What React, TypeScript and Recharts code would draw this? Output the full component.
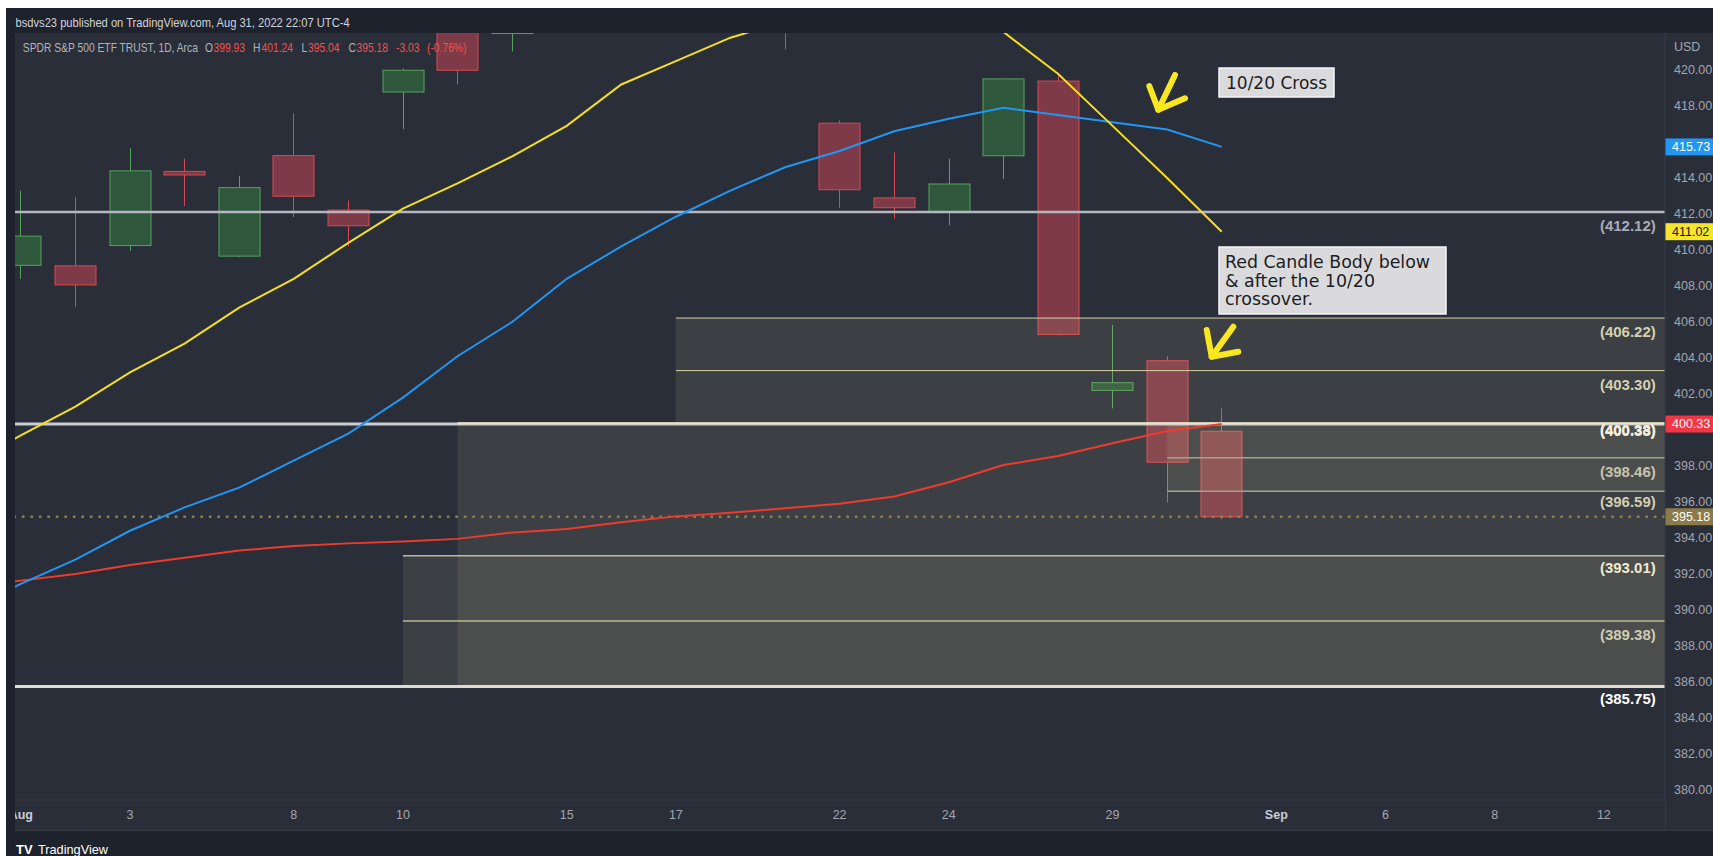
import React from "react";
import {
  ComposedChart,
  Bar,
  Line,
  XAxis,
  YAxis,
  ReferenceLine,
  ReferenceArea,
} from "recharts";

// Trading days on screen. Jul 29 only feeds the averages at the clipped left edge.
const dates = [
  "Jul 29", "Aug 1", "Aug 2", "Aug 3", "Aug 4", "Aug 5", "Aug 8", "Aug 9", "Aug 10",
  "Aug 11", "Aug 12", "Aug 15", "Aug 16", "Aug 17", "Aug 18", "Aug 19", "Aug 22",
  "Aug 23", "Aug 24", "Aug 25", "Aug 26", "Aug 29", "Aug 30", "Aug 31",
];

const opens = [null, 409.15, 409.12, 410.25, 414.37, 409.66, 415.25, 412.22, 418.78, 422.99, 422.03, 424.77, 427.73, 425.85, 426.86, 424.98, 417.05, 412.9, 412.11, 415.24, 419.39, 402.2, 403.85, 399.93];
const highs = [null, 413.3, 412.96, 415.65, 415.07, 414.12, 417.6, 412.75, 420.1, 424.95, 427.21, 429.3, 431.73, 428.61, 428.49, 425.26, 417.2, 415.42, 415.08, 419.56, 419.85, 405.84, 404.1, 401.24];
const lows = [null, 408.4, 406.82, 409.96, 412.44, 409.6, 411.83, 410.2, 416.71, 419.2, 421.03, 424.0, 426.88, 424.57, 425.84, 421.15, 412.35, 411.75, 411.37, 413.95, 405.25, 401.2, 395.97, 395.04];
const closes = [null, 410.77, 408.06, 414.4, 414.17, 413.47, 412.99, 411.35, 419.99, 419.99, 427.1, 428.86, 429.7, 426.65, 427.89, 422.14, 413.35, 412.35, 413.67, 419.51, 405.31, 402.63, 398.21, 395.18];

// moving averages (10 yellow, 20 blue, 50 red)
const ma10 = [398.0, 399.7, 401.3, 403.2, 404.8, 406.8, 408.4, 410.4, 412.3, 413.7, 415.2, 416.9, 419.2, 420.5, 421.8, 422.7, 422.7, 422.8, 422.2, 422.12, 419.8, 416.9, 414.0, 411.02];
const ma20 = [390.0, 391.45, 392.8, 394.4, 395.7, 396.8, 398.3, 399.8, 401.8, 404.1, 406.0, 408.4, 410.2, 411.85, 413.3, 414.6, 415.5, 416.6, 417.3, 417.9, 417.5, 417.1, 416.7, 415.73];
const ma50 = [391.3, 391.63, 392.0, 392.5, 392.9, 393.3, 393.55, 393.7, 393.8, 393.95, 394.3, 394.5, 394.87, 395.2, 395.4, 395.65, 395.9, 396.3, 397.1, 398.05, 398.55, 399.26, 399.94, 400.33];

// bar index of each date label on the time axis (Aug 1 = 0)
const xTickIdx = [0, 2, 5, 7, 10, 12, 15, 17, 20, 23, 25, 27, 29];
const xTickLabels = ["Aug", "3", "8", "10", "15", "17", "22", "24", "29", "Sep", "6", "8", "12"];

// price scale labels (400 and 416 sit under the last-value tags)
const yTicks = [380, 382, 384, 386, 388, 390, 392, 394, 396, 398, 402, 404, 406, 408, 410, 412, 414, 418, 420];

// drawn horizontal levels; start = bar index where the line begins (null = full width)
const levelValues = [412.12, 406.22, 403.3, 400.33, 400.38, 398.46, 396.59, 393.01, 389.38, 385.75];
const levelStart = [null, 12, 12, null, 8, 21, 21, 7, 7, null];
const levelText = ["(412.12)", "(406.22)", "(403.30)", "(400.33)", "(400.38)", "(398.46)", "(396.59)", "(393.01)", "(389.38)", "(385.75)"];

// shaded zones
const zoneTop = [406.22, 400.33, 393.01, 400.33];
const zoneBottom = [400.33, 385.75, 385.75, 396.59];
const zoneStart = [12, 8, 7, 21];

// last-value tags on the price scale
const tagValues = [415.73, 411.02, 400.33, 395.18];

// symbol line at the top
const symbolName = "SPDR S&P 500 ETF TRUST, 1D, Arca";
const ohlcKeys = ["O", "H", "L", "C"];
const ohlcValues = ["399.93", "401.24", "395.04", "395.18"];
const changeText = ["-3.03", "(-0.76%)"];

const X_MIN = -0.106;
const X_MAX = 30.12;
const Y_MIN = 379.44;
const Y_MAX = 422.06;
const PLOT_W = 1650;
const PLOT_H = 767;

const UI_FONT = '"Liberation Sans", Arial, sans-serif';
const NOTE_FONT = '"DejaVu Sans", Verdana, sans-serif';

const LEVEL_STYLE = [
  { stroke: "#b4b7c0", width: 2.5, text: "#a9acb5", weight: 600, dy: 14 },
  { stroke: "#d8d2a6", width: 1, text: "#d6d1ad", weight: 600, dy: 14 },
  { stroke: "#d8d2a6", width: 1, text: "#d6d1ad", weight: 600, dy: 14 },
  { stroke: "#c9cbd3", width: 3, text: "#f2eedb", weight: 700, dy: 7 },
  { stroke: "#ece4bc", width: 2, text: "#f2eedb", weight: 700, dy: 7 },
  { stroke: "#a6a38b", width: 1.5, text: "#c6c3ad", weight: 600, dy: 14 },
  { stroke: "#a6a38b", width: 1.5, text: "#d3cfb2", weight: 600, dy: 11 },
  { stroke: "#bdb996", width: 1.5, text: "#efebcf", weight: 700, dy: 12 },
  { stroke: "#bdb996", width: 1.5, text: "#cfcbb0", weight: 600, dy: 14 },
  { stroke: "#dedbd2", width: 3, text: "#ffffff", weight: 700, dy: 12.5 },
];

const TAG_STYLE = [
  { bg: "#2196f3", fg: "#ffffff" },
  { bg: "#f7e52b", fg: "#131722" },
  { bg: "#f23645", fg: "#ffffff" },
  { bg: "#8b7b4a", fg: "#ffffff" },
];

// x position of each piece of the symbol line (overlay px)
const OHLC_KEY_X = [199, 247, 295.5, 342.5];
const OHLC_VAL_X = [207.5, 255.5, 302, 350.5];
const CHANGE_X = [390, 421];

function Candle(props: any) {
  const { x, y, width, height, payload } = props;
  if (!payload || payload.o == null || !isFinite(y) || !isFinite(height)) return null;
  const { o, h, l, c } = payload;
  const top = Math.min(y, y + height);
  const bottom = Math.max(y, y + height);
  const span = h - l || 1;
  const py = (v: number) => top + ((h - v) / span) * (bottom - top);
  const cx = Math.round(x + width / 2) + 0.5;
  const up = c >= o;
  const stroke = up ? "#54a35c" : "#d94850";
  const fill = up ? "#2f573c" : "#7e3a47";
  const bodyTop = py(Math.max(o, c));
  const bodyBot = py(Math.min(o, c));
  return (
    <g>
      <line x1={cx} x2={cx} y1={py(h)} y2={bodyTop} stroke={stroke} strokeWidth={1} />
      <line x1={cx} x2={cx} y1={bodyBot} y2={py(l)} stroke={stroke} strokeWidth={1} />
      <rect
        x={cx - 20.5}
        y={bodyTop}
        width={41}
        height={Math.max(1, bodyBot - bodyTop)}
        fill={fill}
        stroke={stroke}
        strokeWidth={1}
      />
    </g>
  );
}

const XTick = (p: any) => {
  const k = xTickIdx.indexOf(p.payload?.value);
  if (k < 0) return null;
  const label = xTickLabels[k];
  const month = label === "Aug" || label === "Sep";
  return (
    <text
      x={p.x}
      y={PLOT_H + 15}
      textAnchor="middle"
      dominantBaseline="central"
      fill={month ? "#c9ccd4" : "#a3a6af"}
      fontWeight={month ? 700 : 400}
      fontSize={12.5}
      fontFamily={UI_FONT}
    >
      {label}
    </text>
  );
};

const YTick = (p: any) => (
  <text
    x={PLOT_W + 9}
    y={p.y}
    dominantBaseline="central"
    fill="#a3a6af"
    fontSize={12.5}
    fontFamily={UI_FONT}
  >
    {Number(p.payload?.value).toFixed(2)}
  </text>
);

const levelLabel = (k: number) => (p: any) => {
  const vb = p.viewBox;
  if (!vb) return null;
  const s = LEVEL_STYLE[k];
  return (
    <text
      x={vb.x + vb.width - 9.3}
      y={vb.y + s.dy}
      textAnchor="end"
      dominantBaseline="central"
      fill={s.text}
      fontWeight={s.weight}
      fontSize={14}
      fontFamily={UI_FONT}
      textLength={55.7}
      lengthAdjust="spacingAndGlyphs"
    >
      {levelText[k]}
    </text>
  );
};

const tagLabel = (k: number) => (p: any) => {
  const vb = p.viewBox;
  if (!vb) return null;
  const s = TAG_STYLE[k];
  const x = vb.x + vb.width;
  return (
    <g>
      <rect x={x} y={vb.y - 8.5} width={60} height={17} fill={s.bg} />
      <text
        x={x + 7}
        y={vb.y}
        dominantBaseline="central"
        fill={s.fg}
        fontSize={12.5}
        fontFamily={UI_FONT}
      >
        {tagValues[k].toFixed(2)}
      </text>
    </g>
  );
};

// narrow-ish symbol line text: small font stretched vertically
function LegendText({ x, fill, children }: { x: number; fill: string; children: React.ReactNode }) {
  return (
    <g transform={`translate(${x} 39.3) scale(1 1.25)`}>
      <text x={0} y={0} dominantBaseline="central" fill={fill} fontSize={10.3} fontFamily={UI_FONT}>
        {children}
      </text>
    </g>
  );
}

export default function App() {
  const rows = dates.map((d, k) => ({
    i: k - 1,
    date: d,
    o: opens[k],
    h: highs[k],
    l: lows[k],
    c: closes[k],
    range: opens[k] == null ? null : [lows[k], highs[k]],
    ma10: ma10[k],
    ma20: ma20[k],
    ma50: ma50[k],
  }));

  const lastClose = closes[closes.length - 1] as number;

  return (
    <div
      style={{
        position: "fixed",
        left: 6,
        top: 8,
        width: 1707,
        height: 848,
        background: "#1e222d",
        overflow: "hidden",
        fontFamily: UI_FONT,
      }}
    >
      <div style={{ position: "absolute", left: 9, top: 25, width: 1698, height: 797, background: "#2a2e39" }} />
      <div style={{ position: "absolute", left: 9, top: 25 }}>
        <ComposedChart
          width={PLOT_W + 60}
          height={PLOT_H + 30}
          data={rows}
          margin={{ top: 0, right: 0, bottom: 0, left: 0 }}
        >
          <XAxis
            dataKey="i"
            type="number"
            domain={[X_MIN, X_MAX]}
            allowDataOverflow
            ticks={xTickIdx}
            interval={0}
            tick={XTick}
            tickLine={false}
            axisLine={{ stroke: "#363a45" }}
            height={30}
          />
          <YAxis
            orientation="right"
            domain={[Y_MIN, Y_MAX]}
            allowDataOverflow
            ticks={yTicks}
            interval={0}
            width={60}
            tick={YTick}
            tickLine={false}
            axisLine={{ stroke: "#363a45" }}
          />
          <Bar dataKey="range" barSize={42} shape={Candle} isAnimationActive={false} />
          {zoneTop.map((t, k) => (
            <ReferenceArea
              key={`zone-${k}`}
              x1={zoneStart[k]}
              x2={X_MAX}
              y1={zoneBottom[k]}
              y2={t}
              fill="#ded8a7"
              fillOpacity={0.1}
              stroke="none"
              zIndex={350}
            />
          ))}
          {levelValues.map((v, k) =>
            levelStart[k] == null ? (
              <ReferenceLine
                key={`lvl-${k}`}
                y={v}
                stroke={LEVEL_STYLE[k].stroke}
                strokeWidth={LEVEL_STYLE[k].width}
                label={levelLabel(k)}
                zIndex={360}
              />
            ) : (
              <ReferenceLine
                key={`lvl-${k}`}
                segment={[
                  { x: levelStart[k] as number, y: v },
                  { x: X_MAX, y: v },
                ]}
                stroke={LEVEL_STYLE[k].stroke}
                strokeWidth={LEVEL_STYLE[k].width}
                label={levelLabel(k)}
                zIndex={360}
              />
            )
          )}
          <ReferenceLine
            y={lastClose}
            stroke="#8e7d48"
            strokeWidth={2.5}
            strokeDasharray="2.7 5.8"
            zIndex={360}
          />
          <Line dataKey="ma50" type="linear" stroke="#ef3b2c" strokeWidth={2} dot={false} activeDot={false} isAnimationActive={false} />
          <Line dataKey="ma20" type="linear" stroke="#2196f3" strokeWidth={2} dot={false} activeDot={false} isAnimationActive={false} />
          <Line dataKey="ma10" type="linear" stroke="#f5df24" strokeWidth={2} dot={false} activeDot={false} isAnimationActive={false} />
          {tagValues.map((v, k) => (
            <ReferenceLine key={`tag-${k}`} y={v} stroke="none" label={tagLabel(k)} ifOverflow="visible" />
          ))}
        </ComposedChart>
      </div>

      {/* frame pieces */}
      <div style={{ position: "absolute", left: 0, top: 25, width: 9, height: 823, background: "#1e222d" }} />
      <div style={{ position: "absolute", left: 9, top: 822, width: 1698, height: 1, background: "#363a45" }} />
      <div style={{ position: "absolute", left: 1659, top: 792, width: 1, height: 30, background: "#363a45" }} />

      <svg
        width={1707}
        height={848}
        style={{ position: "absolute", left: 0, top: 0, pointerEvents: "none" }}
      >
        <text x={9.6} y={14} dominantBaseline="central" fill="#d1d4dc" fontSize={13} fontFamily={UI_FONT} textLength={334} lengthAdjust="spacingAndGlyphs">
          bsdvs23 published on TradingView.com, Aug 31, 2022 22:07 UTC-4
        </text>
        <LegendText x={16.8} fill="#b2b5be">{symbolName}</LegendText>
        {ohlcKeys.map((key, k) => (
          <g key={`ohlc-${k}`}>
            <LegendText x={OHLC_KEY_X[k]} fill="#b2b5be">{key}</LegendText>
            <LegendText x={OHLC_VAL_X[k]} fill="#ef5350">{ohlcValues[k]}</LegendText>
          </g>
        ))}
        {changeText.map((t, k) => (
          <LegendText key={`chg-${k}`} x={CHANGE_X[k]} fill="#ef5350">{t}</LegendText>
        ))}
        <text x={1668} y={39} dominantBaseline="central" fill="#a3a6af" fontSize={12.5} fontFamily={UI_FONT}>
          USD
        </text>

        {/* notes */}
        <rect x={1213} y={60} width={115} height={29} fill="#dadadd" stroke="#f4f4f6" strokeWidth={1.5} />
        <text x={1220} y={81.3} fill="#1b1d22" fontSize={17} fontFamily={NOTE_FONT} textLength={101} lengthAdjust="spacingAndGlyphs">
          10/20 Cross
        </text>
        <rect x={1213} y={239} width={227} height={67} fill="#dadadd" stroke="#f4f4f6" strokeWidth={1.5} />
        <text x={1219} y={260.3} fill="#1b1d22" fontSize={17} fontFamily={NOTE_FONT} textLength={205} lengthAdjust="spacingAndGlyphs">
          Red Candle Body below
        </text>
        <text x={1219} y={279} fill="#1b1d22" fontSize={17} fontFamily={NOTE_FONT} textLength={150} lengthAdjust="spacingAndGlyphs">
          &amp; after the 10/20
        </text>
        <text x={1219} y={297.3} fill="#1b1d22" fontSize={17} fontFamily={NOTE_FONT} textLength={88} lengthAdjust="spacingAndGlyphs">
          crossover.
        </text>

        {/* hand-drawn arrows */}
        <g stroke="#f9e81f" strokeWidth={6} fill="none" strokeLinecap="round" strokeLinejoin="round">
          <path d="M1169 67 L1152.3 101.7" />
          <path d="M1143.3 78 L1152.3 101.7 L1179 90.3" />
          <path d="M1227.3 318.7 L1205.7 348.7" />
          <path d="M1200.7 322 L1205.7 348.7 L1232.3 343.7" />
        </g>

        {/* footer */}
        <text x={10} y={841} dominantBaseline="central" fill="#ffffff" fontSize={13} fontWeight={700} fontFamily={UI_FONT}>
          TV
        </text>
        <text x={32} y={841} dominantBaseline="central" fill="#ffffff" fontSize={13} fontFamily={UI_FONT} textLength={70} lengthAdjust="spacingAndGlyphs">
          TradingView
        </text>
      </svg>
    </div>
  );
}
